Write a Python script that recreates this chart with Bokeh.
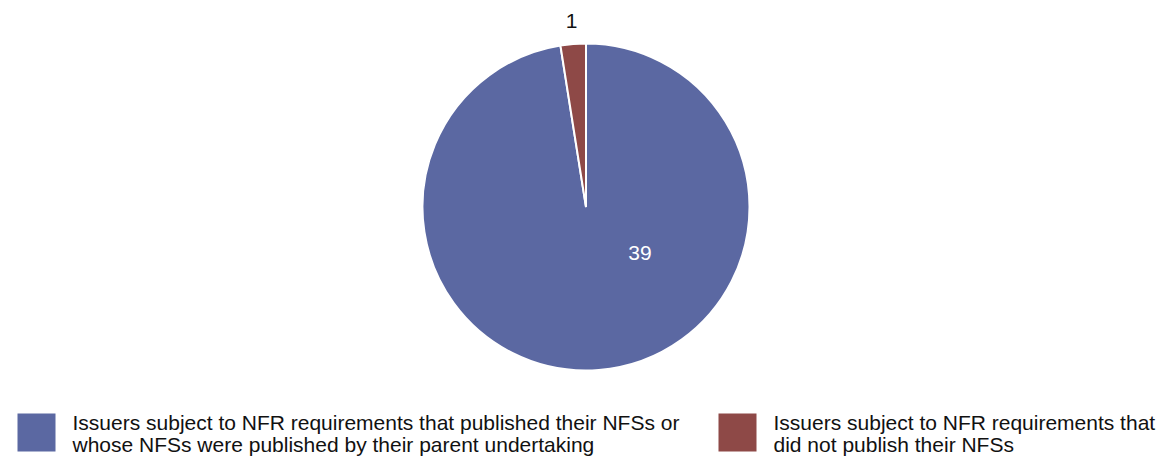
import math
from bokeh.plotting import figure
from bokeh.models import Range1d, ColumnDataSource
from bokeh.core.properties import value
from bokeh.embed import file_html
from bokeh.resources import INLINE

# ---- data ----
categories = [
    "Issuers subject to NFR requirements that published their NFSs or\nwhose NFSs were published by their parent undertaking",
    "Issuers subject to NFR requirements that\ndid not publish their NFSs",
]
counts = [39, 1]
colors = ["#5B68A2", "#8E4947"]
label_colors = ["#FFFFFF", "#111111"]

W, H = 1167, 457
p = figure(width=W, height=H, output_backend="svg", toolbar_location=None,
           x_range=Range1d(0, W), y_range=Range1d(0, H), min_border=0)
p.axis.visible = False
p.grid.visible = False
p.outline_line_color = None
p.background_fill_color = "white"
p.border_fill_color = "white"

def sy(y):
    return H - y

cx, cy, r = 585.5, sy(206.5), 163.5

total = sum(counts)
starts, ends, mids = [], [], []
acc = 0.0
for c in counts:
    a0 = math.pi / 2 - 2 * math.pi * acc / total
    acc += c
    a1 = math.pi / 2 - 2 * math.pi * acc / total
    starts.append(a0)
    ends.append(a1)
    mids.append((a0 + a1) / 2)

src = ColumnDataSource(dict(x=[cx] * len(counts), y=[cy] * len(counts),
                            start=starts, end=ends, color=colors))
p.wedge(x="x", y="y", radius=r, radius_units="screen", start_angle="start",
        end_angle="end", direction="clock", fill_color="color",
        line_color="white", line_width=2, source=src)

# data labels
lx = [cx + 0.33 * r, cx + 1.12 * r * math.cos(mids[1])]
ly = [cy - 0.28 * r, cy + 1.14 * r * math.sin(mids[1])]
p.text(x=lx, y=ly, text=[str(c) for c in counts], text_color=label_colors,
       text_font=value("Liberation Sans"), text_font_size="21px",
       text_align="center", text_baseline="middle")

# legend
sw_x = [36, 737]
p.rect(x=sw_x, y=[sy(432)] * 2, width=38, height=38, width_units="screen",
       height_units="screen", fill_color=colors, line_color=None)

tx, ty, tt = [], [], []
for xi, cat in zip([72, 773], categories):
    for k, line in enumerate(cat.split("\n")):
        tx.append(xi)
        ty.append(sy(422 + 22 * k))
        tt.append(line)
p.text(x=tx, y=ty, text=tt,
       text_font=value("Liberation Sans"), text_font_size="21px",
       text_color="#111111", text_align="left", text_baseline="middle")

open("out.html", "w").write(file_html(p, INLINE))
